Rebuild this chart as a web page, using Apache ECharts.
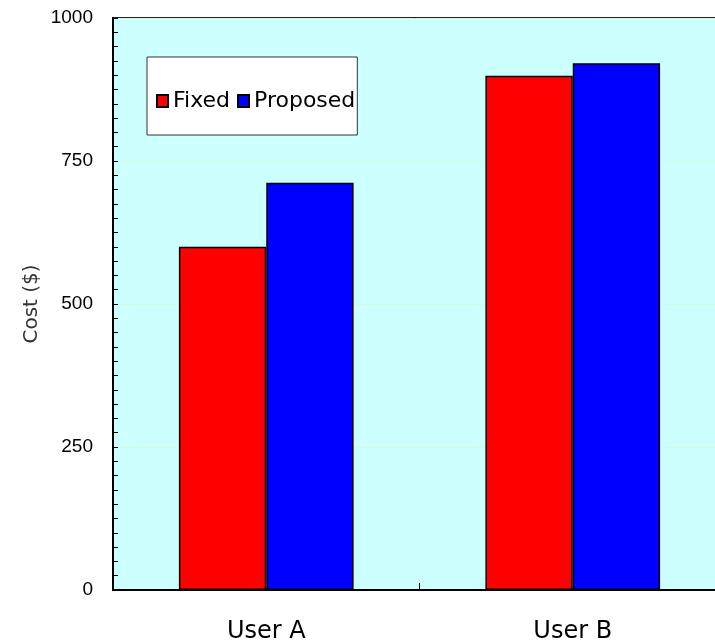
<!DOCTYPE html>
<html>
<head>
<meta charset="utf-8">
<script src="https://cdn.jsdelivr.net/npm/echarts@6/dist/echarts.min.js"></script>
<style>
html,body{margin:0;padding:0;background:#fff;overflow:hidden;}
#chart{width:715px;height:640px;}
</style>
</head>
<body>
<div id="chart"></div>
<script>
const categories = ['User A', 'User B'];
const fixedValues = [600, 899];
const proposedValues = [712, 921];
const yTicks = [0, 250, 500, 750, 1000];

const chart = echarts.init(document.getElementById('chart'), null, {renderer: 'canvas'});
chart.setOption({
  animation: false,
  backgroundColor: '#ffffff',
  grid: {
    left: 113, top: 18, bottom: 50, right: -11,
    outerBoundsMode: 'none',
    containLabel: false,
    show: true, backgroundColor: '#ccffff',
    borderColor: '#222', borderWidth: 2
  },
  legend: {
    left: 147, top: 57,
    orient: 'horizontal',
    padding: [33, 2, 23, 9],
    itemGap: 7,
    itemWidth: 11, itemHeight: 12,
    icon: 'rect',
    backgroundColor: '#ffffff',
    borderColor: '#333', borderWidth: 1,
    textStyle: {fontFamily: 'DejaVu Sans', fontSize: 22, color: '#000'},
    data: ['Fixed', 'Proposed']
  },
  xAxis: {
    type: 'category',
    data: categories,
    axisLine: {lineStyle: {color: '#000', width: 2}},
    axisTick: {show: true, inside: true, length: 7, lineStyle: {color: '#000'}},
    axisLabel: {fontFamily: 'DejaVu Sans', fontSize: 24, color: '#000', margin: 30}
  },
  yAxis: {
    type: 'value',
    min: yTicks[0], max: yTicks[yTicks.length - 1], interval: 250,
    name: 'Cost ($)',
    nameLocation: 'middle',
    nameGap: 71,
    nameMoveOverlap: false,
    nameTextStyle: {fontFamily: 'DejaVu Sans', fontSize: 20, color: '#333'},
    axisLine: {show: true, lineStyle: {color: '#000', width: 2}},
    axisTick: {show: true, inside: true, length: 5, lineStyle: {color: '#000'}},
    minorTick: {show: true, splitNumber: 10, length: 5, lineStyle: {color: '#000'}},
    splitLine: {show: true, lineStyle: {color: '#d4ffc8', width: 1}},
    axisLabel: {
      fontFamily: 'Liberation Sans', fontSize: 19, color: '#000', margin: 20,
      formatter: function (v) { return String(v); }
    }
  },
  series: [
    {
      name: 'Fixed', type: 'bar', data: fixedValues,
      barGap: '0%', barCategoryGap: '43%',
      itemStyle: {color: '#ff0000', borderColor: '#000', borderWidth: 1.5}
    },
    {
      name: 'Proposed', type: 'bar', data: proposedValues,
      barGap: '0%', barCategoryGap: '43%',
      itemStyle: {color: '#0000ff', borderColor: '#000', borderWidth: 1.5}
    }
  ]
});
</script>
</body>
</html>
